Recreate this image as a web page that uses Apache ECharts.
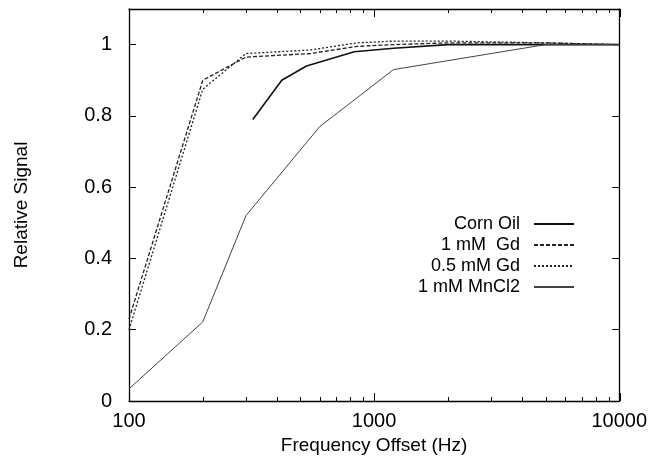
<!DOCTYPE html>
<html>
<head>
<meta charset="utf-8">
<script src="https://cdn.jsdelivr.net/npm/echarts@6/dist/echarts.min.js"></script>
<style>
html, body { margin: 0; padding: 0; background: #fff; }
#main { width: 650px; height: 460px; }
</style>
</head>
<body>
<div id="main"></div>
<script>
// 数据：频率(Hz) 与 相对信号
var seriesNames = ['Corn Oil', '1 mM  Gd', '0.5 mM Gd', '1 mM MnCl2'];

var cornOilFreq = [320, 420, 530, 830, 1200, 2000, 5000, 10000];
var cornOilSignal = [0.79, 0.90, 0.94, 0.98, 0.99, 1.0, 1.0, 1.0];

var gd1Freq = [100, 200, 300, 550, 850, 1200, 2000, 5000, 10000];
var gd1Signal = [0.23, 0.90, 0.965, 0.975, 0.995, 1.0, 1.005, 1.005, 1.0];

var gd05Freq = [100, 200, 300, 550, 850, 1200, 2000, 5000, 10000];
var gd05Signal = [0.20, 0.875, 0.975, 0.985, 1.005, 1.01, 1.01, 1.005, 1.0];

var mnFreq = [100, 200, 300, 600, 1200, 5000, 10000];
var mnSignal = [0.034, 0.222, 0.52, 0.77, 0.93, 1.0, 1.0];

// 次刻度（2..9 倍）
var xMinorTicks = [200, 300, 400, 500, 600, 700, 800, 900,
                   2000, 3000, 4000, 5000, 6000, 7000, 8000, 9000];

var fontName = "'Liberation Sans', Arial, sans-serif";

function pairs(xs, ys) {
    return xs.map(function (x, i) { return [x, ys[i]]; });
}

var myChart = echarts.init(document.getElementById('main'));

// 数据用的对数轴
function xLog(pos, showLabel, name) {
    return {
        type: 'log',
        logBase: 10,
        position: pos,
        min: 100,
        max: 10000,
        name: name || '',
        nameLocation: 'middle',
        nameGap: 27,
        nameTextStyle: { fontSize: 19, fontFamily: fontName, color: '#000' },
        axisLine: { show: true, onZero: false, lineStyle: { color: '#000', width: 1.3 } },
        axisTick: { show: false },
        axisLabel: { show: showLabel, margin: 10,
                     fontSize: 20, fontFamily: fontName, color: '#000',
                     formatter: function (v) { return String(Math.round(v)); } },
        splitLine: { show: false },
        minorTick: { show: false }
    };
}

// 只画刻度的辅助轴（放在第二个同尺寸 grid 里，以 log10(Hz) 为刻度）
function xTicks(pos, len, custom) {
    var ax = {
        type: 'value',
        gridIndex: 1,
        position: pos,
        min: 2,
        max: 4,
        interval: 1,
        axisLine: { show: false, onZero: false },
        axisTick: { show: true, inside: true, length: len,
                    lineStyle: { color: '#000', width: 1 } },
        axisLabel: { show: false },
        splitLine: { show: false }
    };
    if (custom) {
        ax.axisTick.customValues = custom;
    }
    return ax;
}

function yAx(pos, showLabel, name) {
    return {
        type: 'value',
        position: pos,
        min: 0,
        max: 1.1,
        interval: 0.2,
        name: name || '',
        nameLocation: 'middle',
        nameGap: 98,
        nameTextStyle: { fontSize: 19, fontFamily: fontName, color: '#000' },
        axisLine: { show: true, onZero: false, lineStyle: { color: '#000', width: 1.3 } },
        axisTick: { show: true, inside: true, length: 7, lineStyle: { color: '#000', width: 1 } },
        axisLabel: { show: showLabel, showMaxLabel: false, margin: 17,
                     fontSize: 20, fontFamily: fontName, color: '#000' },
        splitLine: { show: false }
    };
}

var styles = [
    { color: '#111', width: 1.6, type: 'solid' },
    { color: '#222', width: 1.3, type: [4, 2] },
    { color: '#222', width: 1.3, type: [2, 2] },
    { color: '#444', width: 1, type: 'solid' }
];
var dataSets = [
    pairs(cornOilFreq, cornOilSignal),
    pairs(gd1Freq, gd1Signal),
    pairs(gd05Freq, gd05Signal),
    pairs(mnFreq, mnSignal)
];

var legendRows = [225, 246, 267, 288];
var minorExp = xMinorTicks.map(function (v) { return Math.log10(v); });
var plotRect = { left: 129, right: 30, top: 9, bottom: 59, containLabel: false };

var option = {
    animation: false,
    backgroundColor: '#fff',
    grid: [plotRect, plotRect],
    legend: seriesNames.map(function (n, i) {
        return {
            data: [n],
            orient: 'vertical',
            align: 'right',
            right: 75,
            top: legendRows[i] - 10,
            itemWidth: 40,
            itemHeight: 14,
            padding: 0,
            itemStyle: { opacity: 0 },
            textStyle: { fontSize: 18, fontFamily: fontName, color: '#000', padding: [0, 9, 0, 0] }
        };
    }),
    xAxis: [
        xLog('bottom', true, 'Frequency Offset (Hz)'),
        xLog('top', false),
        xTicks('bottom', 8),
        xTicks('bottom', 4, minorExp),
        xTicks('top', 8),
        xTicks('top', 4, minorExp)
    ],
    yAxis: [
        yAx('left', true, 'Relative Signal'),
        yAx('right', false),
        { type: 'value', gridIndex: 1, min: 0, max: 1, show: false }
    ],
    series: seriesNames.map(function (n, i) {
        return {
            name: n,
            type: 'line',
            xAxisIndex: 0,
            yAxisIndex: 0,
            symbol: 'none',
            data: dataSets[i],
            itemStyle: { color: styles[i].color },
            lineStyle: styles[i]
        };
    })
};

myChart.setOption(option);
</script>
</body>
</html>
